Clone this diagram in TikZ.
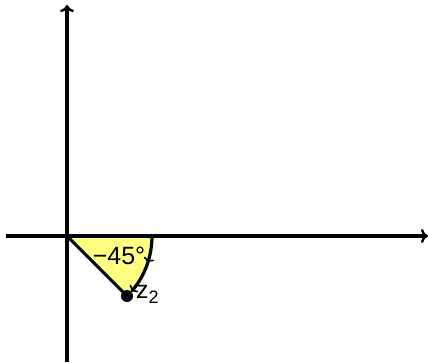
\documentclass[tikz,border=0pt]{standalone}
\usepackage{fontspec}
\setmainfont{Liberation Sans}
\usetikzlibrary{arrows.meta,decorations.markings}
\definecolor{sect}{HTML}{FFFF80}
\begin{document}
\begin{tikzpicture}[x=1pt,y=-1pt,
  axis/.style={line width=3.2pt,-{To[length=7pt,width=14pt,line width=2.4pt]}},
  lbl/.style={font=\fontsize{25}{30}\selectfont,inner sep=0pt}]
\useasboundingbox (0,0) rectangle (429,362);
\coordinate (O) at (67,236);
\coordinate (xl) at (6,236);
\coordinate (xr) at (428,236);
\coordinate (yb) at (67,362);
\coordinate (yt) at (67,5);
\coordinate (A) at (152,236);
\coordinate (Z) at (127,296);
\fill[sect] (O) -- (A) arc[start angle=0,end angle=45,radius=85] -- cycle;
\draw[line width=3pt] (O) -- (Z);
\draw[axis] (xl) -- (xr);
\draw[axis] (yb) -- (yt);
\draw[line width=3.2pt,
  postaction={decorate},
  decoration={markings,mark=at position 0.45 with {\arrow{To[length=5pt,width=11pt,line width=1.6pt]}}},
  -{To[length=5pt,width=11pt,line width=1.6pt]}]
  (A) arc[start angle=0,end angle=41,radius=85];
\fill (Z) circle[radius=6];
\node[lbl] (ang) at (119,256) {−45°};
\node[lbl,anchor=west] (z2) at (136,294) {z\raisebox{-5pt}{\fontsize{18}{20}\selectfont 2}};
\end{tikzpicture}
\end{document}
